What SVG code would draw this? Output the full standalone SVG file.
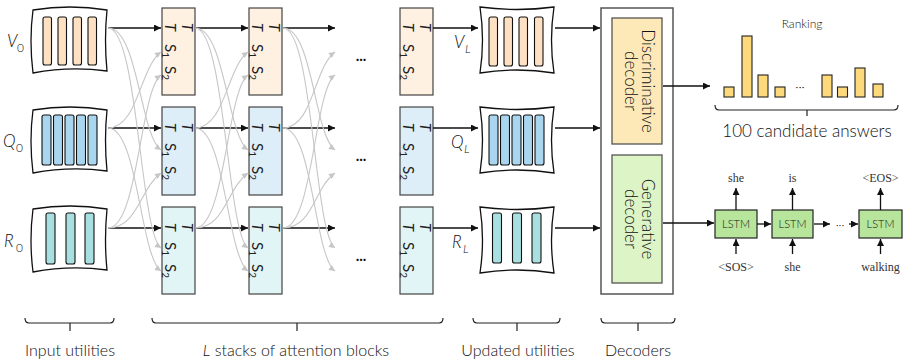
<svg xmlns="http://www.w3.org/2000/svg" width="904" height="364" viewBox="0 0 904 364">
<style>
text{font-family:Lato,"Liberation Sans",Arial,sans-serif;font-weight:300;fill:#111}
.sheet{fill:#fff;stroke:#111;stroke-width:1.3}
.bar{stroke:#111;stroke-width:1.1}
.bv{fill:#fde1c2}.bq{fill:#a9d5ef}.br{fill:#a8dfe0}
.blk{stroke:#444;stroke-width:1.2}
.kv{fill:#fef1e2}.kq{fill:#ddeef8}.kr{fill:#e2f5f6}
.bk{fill:none;stroke:#111;stroke-width:1.3;marker-end:url(#ah)}
.gr{fill:none;stroke:#c6c6c6;stroke-width:1.1;marker-end:url(#ag)}
text.bt{font-size:15px;font-weight:400;fill:#222}
.bt .it{font-style:italic}
.sub{font-size:10px}
.lab{font-size:16px}
.rk{fill:#fdd97c;stroke:#222;stroke-width:1.1}
.lstm{fill:#b6e59b;stroke:#222;stroke-width:1.2}
text.w{font-family:"Liberation Serif","Times New Roman",serif;font-weight:400;font-size:12px;text-anchor:middle;fill:#333}
.brace{fill:none;stroke:#222;stroke-width:1.2}
</style>
<defs>
<marker id="ah" viewBox="0 0 10 10" refX="10" refY="5" markerWidth="8" markerHeight="7" markerUnits="userSpaceOnUse" orient="auto"><path d="M0,0 L10,5 L0,10 z" fill="#111"/></marker>
<marker id="ag" viewBox="0 0 10 10" refX="10" refY="5" markerWidth="7" markerHeight="6" markerUnits="userSpaceOnUse" orient="auto"><path d="M0,0 L10,5 L0,10 z" fill="#c6c6c6"/></marker>
</defs>

<!-- Input utilities -->
<g id="input-V0">
<path class="sheet" d="M33,10 Q70,4 107,10 Q104,40 107,71 Q70,66 33,73 Q29,40 33,10 Z"/>
<rect class="bar bv" x="43" y="17" width="8.5" height="48" rx="2"/>
<rect class="bar bv" x="58" y="17" width="8.5" height="48" rx="2"/>
<rect class="bar bv" x="73" y="17" width="8.5" height="48" rx="2"/>
<rect class="bar bv" x="88" y="17" width="8.5" height="48" rx="2"/>
<text x="7" y="47" font-size="17" font-style="italic">V</text><text x="17" y="52" font-size="12">0</text>
</g>
<g id="input-Q0">
<path class="sheet" d="M33,110 Q70,104 107,110 Q104,140 107,171 Q70,166 33,173 Q29,140 33,110 Z"/>
<rect class="bar bq" x="42" y="115" width="9" height="50" rx="2"/>
<rect class="bar bq" x="53.5" y="115" width="9" height="50" rx="2"/>
<rect class="bar bq" x="65" y="115" width="9" height="50" rx="2"/>
<rect class="bar bq" x="76.5" y="115" width="9" height="50" rx="2"/>
<rect class="bar bq" x="88" y="115" width="9" height="50" rx="2"/>
<text x="3" y="147" font-size="17" font-style="italic">Q</text><text x="16" y="152" font-size="12">0</text>
</g>
<g id="input-R0">
<path class="sheet" d="M33,209 Q70,203 107,209 Q104,240 107,270 Q70,265 33,272 Q29,240 33,209 Z"/>
<rect class="bar br" x="46" y="213" width="9" height="51" rx="2"/>
<rect class="bar br" x="66" y="213" width="9" height="51" rx="2"/>
<rect class="bar br" x="85" y="213" width="9" height="51" rx="2"/>
<text x="4" y="247" font-size="17" font-style="italic">R</text><text x="16" y="252" font-size="12">0</text>
</g>

<!-- Attention blocks -->
<g id="blocks">
<g id="blk-V1"><rect class="blk kv" x="162" y="8" width="33" height="87"/>
<text class="bt" transform="translate(182,23) rotate(90)"><tspan class="it">T</tspan></text>
<text class="bt" transform="translate(165,23) rotate(90)"><tspan class="it">T</tspan></text>
<text class="bt" transform="translate(165,44) rotate(90)">S<tspan class="sub" dy="3">1</tspan></text>
<text class="bt" transform="translate(165,66) rotate(90)">S<tspan class="sub" dy="3">2</tspan></text></g>
<g id="blk-V2"><rect class="blk kv" x="249" y="8" width="33" height="87"/>
<text class="bt" transform="translate(269,23) rotate(90)"><tspan class="it">T</tspan></text>
<text class="bt" transform="translate(252,23) rotate(90)"><tspan class="it">T</tspan></text>
<text class="bt" transform="translate(252,44) rotate(90)">S<tspan class="sub" dy="3">1</tspan></text>
<text class="bt" transform="translate(252,66) rotate(90)">S<tspan class="sub" dy="3">2</tspan></text></g>
<g id="blk-VL"><rect class="blk kv" x="400" y="8" width="33" height="87"/>
<text class="bt" transform="translate(420,23) rotate(90)"><tspan class="it">T</tspan></text>
<text class="bt" transform="translate(403,23) rotate(90)"><tspan class="it">T</tspan></text>
<text class="bt" transform="translate(403,44) rotate(90)">S<tspan class="sub" dy="3">1</tspan></text>
<text class="bt" transform="translate(403,66) rotate(90)">S<tspan class="sub" dy="3">2</tspan></text></g>

<g id="blk-Q1"><rect class="blk kq" x="162" y="107" width="33" height="88"/>
<text class="bt" transform="translate(182,123) rotate(90)"><tspan class="it">T</tspan></text>
<text class="bt" transform="translate(165,123) rotate(90)"><tspan class="it">T</tspan></text>
<text class="bt" transform="translate(165,143) rotate(90)">S<tspan class="sub" dy="3">1</tspan></text>
<text class="bt" transform="translate(165,166) rotate(90)">S<tspan class="sub" dy="3">2</tspan></text></g>
<g id="blk-Q2"><rect class="blk kq" x="249" y="107" width="33" height="88"/>
<text class="bt" transform="translate(269,123) rotate(90)"><tspan class="it">T</tspan></text>
<text class="bt" transform="translate(252,123) rotate(90)"><tspan class="it">T</tspan></text>
<text class="bt" transform="translate(252,143) rotate(90)">S<tspan class="sub" dy="3">1</tspan></text>
<text class="bt" transform="translate(252,166) rotate(90)">S<tspan class="sub" dy="3">2</tspan></text></g>
<g id="blk-QL"><rect class="blk kq" x="400" y="107" width="33" height="88"/>
<text class="bt" transform="translate(420,123) rotate(90)"><tspan class="it">T</tspan></text>
<text class="bt" transform="translate(403,123) rotate(90)"><tspan class="it">T</tspan></text>
<text class="bt" transform="translate(403,143) rotate(90)">S<tspan class="sub" dy="3">1</tspan></text>
<text class="bt" transform="translate(403,166) rotate(90)">S<tspan class="sub" dy="3">2</tspan></text></g>

<g id="blk-R1"><rect class="blk kr" x="162" y="207" width="33" height="87"/>
<text class="bt" transform="translate(182,223) rotate(90)"><tspan class="it">T</tspan></text>
<text class="bt" transform="translate(165,223) rotate(90)"><tspan class="it">T</tspan></text>
<text class="bt" transform="translate(165,242) rotate(90)">S<tspan class="sub" dy="3">1</tspan></text>
<text class="bt" transform="translate(165,264) rotate(90)">S<tspan class="sub" dy="3">2</tspan></text></g>
<g id="blk-R2"><rect class="blk kr" x="249" y="207" width="33" height="87"/>
<text class="bt" transform="translate(269,223) rotate(90)"><tspan class="it">T</tspan></text>
<text class="bt" transform="translate(252,223) rotate(90)"><tspan class="it">T</tspan></text>
<text class="bt" transform="translate(252,242) rotate(90)">S<tspan class="sub" dy="3">1</tspan></text>
<text class="bt" transform="translate(252,264) rotate(90)">S<tspan class="sub" dy="3">2</tspan></text></g>
<g id="blk-RL"><rect class="blk kr" x="400" y="207" width="33" height="87"/>
<text class="bt" transform="translate(420,223) rotate(90)"><tspan class="it">T</tspan></text>
<text class="bt" transform="translate(403,223) rotate(90)"><tspan class="it">T</tspan></text>
<text class="bt" transform="translate(403,242) rotate(90)">S<tspan class="sub" dy="3">1</tspan></text>
<text class="bt" transform="translate(403,264) rotate(90)">S<tspan class="sub" dy="3">2</tspan></text></g>
</g>

<g id="ellipses">
<text x="361" y="61" font-size="15" style="font-weight:bold" text-anchor="middle">...</text>
<text x="361" y="161" font-size="15" style="font-weight:bold" text-anchor="middle">...</text>
<text x="361" y="261" font-size="15" style="font-weight:bold" text-anchor="middle">...</text>
</g>

<!-- Updated utilities -->
<g id="upd-VL">
<path class="sheet" d="M480,7 Q517,12 554,7 Q549,40 554,73 Q517,67 480,73 Q485,40 480,7 Z"/>
<rect class="bar bv" x="489" y="17" width="8.5" height="49" rx="2"/>
<rect class="bar bv" x="504" y="17" width="8.5" height="49" rx="2"/>
<rect class="bar bv" x="519" y="17" width="8.5" height="49" rx="2"/>
<rect class="bar bv" x="534.5" y="17" width="8.5" height="49" rx="2"/>
</g>
<g id="upd-QL">
<path class="sheet" d="M480,107 Q517,112 554,107 Q549,140 554,173 Q517,167 480,173 Q485,140 480,107 Z"/>
<rect class="bar bq" x="489" y="115" width="9" height="50" rx="2"/>
<rect class="bar bq" x="500.5" y="115" width="9" height="50" rx="2"/>
<rect class="bar bq" x="512" y="115" width="9" height="50" rx="2"/>
<rect class="bar bq" x="523.5" y="115" width="9" height="50" rx="2"/>
<rect class="bar bq" x="535" y="115" width="9" height="50" rx="2"/>
</g>
<g id="upd-RL">
<path class="sheet" d="M480,207 Q517,212 554,207 Q549,240 554,273 Q517,267 480,273 Q485,240 480,207 Z"/>
<rect class="bar br" x="492.5" y="213" width="9" height="50" rx="2"/>
<rect class="bar br" x="512.5" y="213" width="9" height="50" rx="2"/>
<rect class="bar br" x="532" y="213" width="9" height="50" rx="2"/>
</g>
<g id="labels-L">
<text x="454" y="48" font-size="17" font-style="italic">V</text><text x="465" y="53" font-size="12" font-style="italic">L</text>
<text x="451" y="148" font-size="17" font-style="italic">Q</text><text x="464" y="153" font-size="12" font-style="italic">L</text>
<text x="452" y="248" font-size="17" font-style="italic">R</text><text x="463" y="253" font-size="12" font-style="italic">L</text>
</g>

<!-- Decoders -->
<g id="decoders">
<rect x="601" y="8" width="72" height="286" fill="#fff" stroke="#555" stroke-width="1.5"/>
<g id="disc-decoder">
<rect x="612" y="18" width="50" height="126" fill="#fde9b8" stroke="#555" stroke-width="1.3"/>
<text font-size="17" text-anchor="middle" transform="translate(642,81) rotate(90)">Discriminative</text>
<text font-size="17" text-anchor="middle" transform="translate(625,81) rotate(90)">decoder</text>
</g>
<g id="gen-decoder">
<rect x="612" y="155" width="50" height="128" fill="#ddf5c6" stroke="#555" stroke-width="1.3"/>
<text font-size="17" text-anchor="middle" transform="translate(642,219) rotate(90)">Generative</text>
<text font-size="17" text-anchor="middle" transform="translate(625,219) rotate(90)">decoder</text>
</g>
</g>

<!-- Ranking -->
<g id="ranking">
<text x="802" y="28" font-size="12" text-anchor="middle">Ranking</text>
<rect class="rk" x="724" y="87" width="10" height="10"/>
<rect class="rk" x="742" y="36" width="10" height="61"/>
<rect class="rk" x="758" y="75" width="10" height="22"/>
<rect class="rk" x="775" y="87" width="10" height="10"/>
<text x="800" y="92" font-size="13" text-anchor="middle">···</text>
<rect class="rk" x="822" y="75" width="10" height="22"/>
<rect class="rk" x="837.5" y="87" width="10" height="10"/>
<rect class="rk" x="855" y="68" width="10" height="29"/>
<rect class="rk" x="873" y="84" width="10" height="13"/>
<path class="brace" d="M715,105 Q715,110 719,110 L894,110 Q898,110 898,105 M807,110 L807,116"/>
<text x="807" y="137" font-size="17" text-anchor="middle">100 candidate answers</text>
</g>

<!-- LSTM chain -->
<g id="lstm1"><rect class="lstm" x="715" y="210" width="42" height="28"/><text x="736" y="228" font-size="11" text-anchor="middle">LSTM</text></g>
<g id="lstm2"><rect class="lstm" x="772" y="210" width="41" height="28"/><text x="792.5" y="228" font-size="11" text-anchor="middle">LSTM</text></g>
<g id="lstm3"><rect class="lstm" x="859" y="210" width="43" height="28"/><text x="880.5" y="228" font-size="11" text-anchor="middle">LSTM</text></g>
<g id="words">
<text class="w" x="736" y="182">she</text>
<text class="w" x="792.5" y="182">is</text>
<text class="w" x="880.5" y="182">&lt;EOS&gt;</text>
<text class="w" x="736" y="271">&lt;SOS&gt;</text>
<text class="w" x="792.5" y="271">she</text>
<text class="w" x="880.5" y="271">walking</text>
<text x="840" y="229" font-size="12" text-anchor="middle">···</text>
</g>

<!-- Connectors -->
<g id="connectors">
<g id="black-arrows">
<path class="bk" d="M108,28 L161,28"/><path class="bk" d="M195,28 L248,28"/><path class="bk" d="M283,28 L335,28"/>
<path class="bk" d="M433,28 L478,28"/><path class="bk" d="M555,28 L600,28"/>
<path class="bk" d="M108,128 L161,128"/><path class="bk" d="M195,128 L248,128"/><path class="bk" d="M283,128 L335,128"/>
<path class="bk" d="M433,128 L478,128"/><path class="bk" d="M555,128 L600,128"/>
<path class="bk" d="M108,228 L161,228"/><path class="bk" d="M195,228 L248,228"/><path class="bk" d="M283,228 L335,228"/>
<path class="bk" d="M433,228 L478,228"/><path class="bk" d="M555,228 L600,228"/>
<path class="bk" d="M663,86 L710,86"/>
<path class="bk" d="M663,223 L714,223"/>
<path class="bk" d="M757,224 L771,224"/>
<path class="bk" d="M814,224 L830,224"/>
<path class="bk" d="M849,224 L858,224"/>
<path class="bk" d="M736,210 L736,188"/>
<path class="bk" d="M792.5,210 L792.5,188"/>
<path class="bk" d="M880.5,210 L880.5,188"/>
<path class="bk" d="M736,254 L736,239"/>
<path class="bk" d="M792.5,254 L792.5,239"/>
<path class="bk" d="M880.5,254 L880.5,239"/>
</g>
<g id="grey-curves">
<path class="gr" d="M108,28 C138,28 140,135 161,150"/>
<path class="gr" d="M108,28 C138,28 140,233 161,248"/>
<path class="gr" d="M108,128 C138,128 140,67 161,52"/>
<path class="gr" d="M108,128 C138,128 140,256 161,271"/>
<path class="gr" d="M108,228 C138,228 140,90 161,75"/>
<path class="gr" d="M108,228 C138,228 140,188 161,173"/>

<path class="gr" d="M195,28 C225,28 227,135 248,150"/>
<path class="gr" d="M195,28 C225,28 227,233 248,248"/>
<path class="gr" d="M195,128 C225,128 227,67 248,52"/>
<path class="gr" d="M195,128 C225,128 227,256 248,271"/>
<path class="gr" d="M195,228 C225,228 227,90 248,75"/>
<path class="gr" d="M195,228 C225,228 227,188 248,173"/>

<path class="gr" d="M283,28 C313,28 314,135 335,150"/>
<path class="gr" d="M283,28 C313,28 314,233 335,248"/>
<path class="gr" d="M283,128 C313,128 314,67 335,52"/>
<path class="gr" d="M283,128 C313,128 314,256 335,271"/>
<path class="gr" d="M283,228 C313,228 314,90 335,75"/>
<path class="gr" d="M283,228 C313,228 314,188 335,173"/>
</g>
</g>

<!-- Bottom braces -->
<g id="bottom-labels">
<path class="brace" d="M25,318 Q25,323 29,323 L110,323 Q114,323 114,318 M70,323 L70,331"/>
<text class="lab" x="70" y="356" text-anchor="middle">Input utilities</text>
<path class="brace" d="M152,318 Q152,323 156,323 L439,323 Q443,323 443,318 M297,323 L297,331"/>
<text class="lab" x="296" y="356" text-anchor="middle"><tspan font-style="italic">L</tspan> stacks of attention blocks</text>
<path class="brace" d="M473,318 Q473,323 477,323 L556,323 Q560,323 560,318 M517,323 L517,331"/>
<text class="lab" x="518" y="356" text-anchor="middle">Updated utilities</text>
<path class="brace" d="M601,318 Q601,323 605,323 L671,323 Q675,323 675,318 M638,323 L638,331"/>
<text class="lab" x="638" y="356" text-anchor="middle">Decoders</text>
</g>
</svg>
